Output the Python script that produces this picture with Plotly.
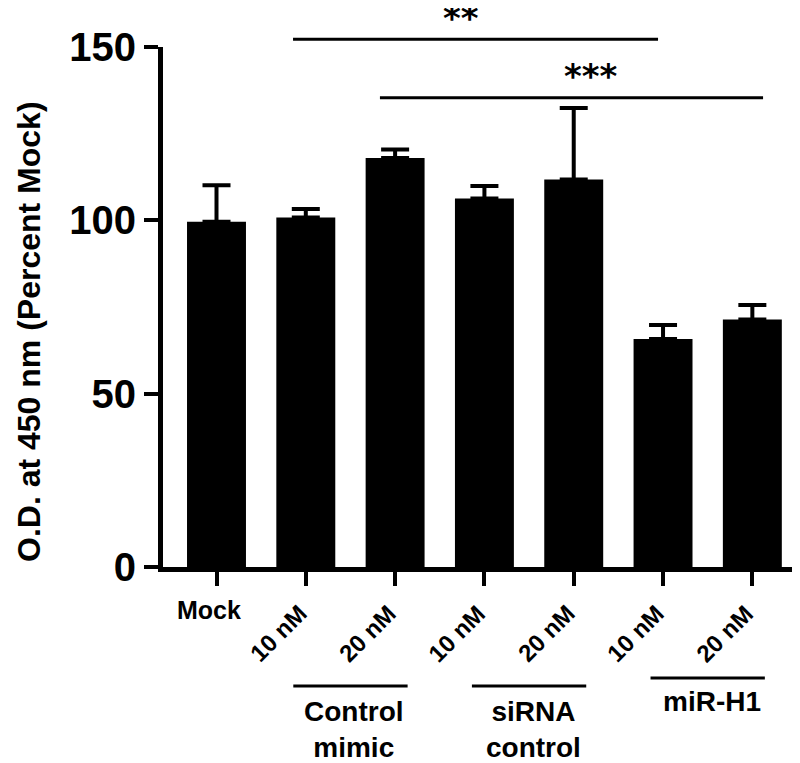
import plotly.graph_objects as go

# data
categories = [
    "Mock",
    "Control mimic 10 nM", "Control mimic 20 nM",
    "siRNA control 10 nM", "siRNA control 20 nM",
    "miR-H1 10 nM", "miR-H1 20 nM",
]
tick_labels = ["Mock", "10 nM", "20 nM", "10 nM", "20 nM", "10 nM", "20 nM"]
od_percent = [99.6, 100.8, 118.0, 106.3, 111.8, 65.8, 71.4]
od_error = [10.5, 2.5, 2.4, 3.6, 20.6, 4.0, 4.2]

# group label, first and last bar index
groups = [("Control<br>mimic", 1, 2), ("siRNA<br>control", 3, 4), ("miR-H1", 5, 6)]
# significance label, bar indices compared
significance = [("**", 1, 5), ("***", 2, 6)]

FONT = "Liberation Sans, Arial, sans-serif"

fig = go.Figure(go.Bar(
    x=categories,
    y=od_percent,
    marker=dict(color="black", line=dict(width=0)),
    error_y=dict(
        type="data", symmetric=False,
        array=od_error, arrayminus=[0] * len(od_error),
        color="black", thickness=4, width=14,
    ),
))

annotations = []
shapes = []

# x tick labels
for i, lab in enumerate(tick_labels):
    if i == 0:
        annotations.append(dict(
            x=i, y=0, xref="x", yref="y", text=lab, showarrow=False,
            xanchor="center", yanchor="middle", xshift=-8, yshift=-43,
            font=dict(family=FONT, size=25, color="black", weight="bold"),
        ))
    else:
        annotations.append(dict(
            x=i, y=0, xref="x", yref="y", text=lab, showarrow=False,
            textangle=-45, xanchor="center", yanchor="middle",
            xshift=-28, yshift=-66,
            font=dict(family=FONT, size=24, color="black", weight="bold"),
        ))

# group brackets under the ticks
for k, (name, a, b) in enumerate(groups):
    line_y = -0.2135 if k == 2 else -0.2288
    shapes.append(dict(
        type="line", xref="x", yref="paper",
        x0=a - 0.14, x1=b + 0.14, y0=line_y, y1=line_y,
        line=dict(color="black", width=3),
    ))
    two_lines = "<br>" in name
    annotations.append(dict(
        x=(a + b) / 2, y=line_y, xref="x", yref="paper", text=name,
        showarrow=False, xanchor="center", yanchor="top",
        xshift=4, yshift=-8 if two_lines else -6,
        font=dict(family=FONT, size=28, color="black", weight="bold"),
    ))

# significance bars
sig_y = [1.0148, 0.9025]
sig_pad = [(-0.143, -0.056), (-0.17, 0.12)]
sig_text_dx = [-23, 17]
sig_text_dy = [21, 22]
for (txt, a, b), yy, (p0, p1), dx, dy in zip(significance, sig_y, sig_pad, sig_text_dx, sig_text_dy):
    shapes.append(dict(
        type="line", xref="x", yref="paper",
        x0=a + p0, x1=b + p1, y0=yy, y1=yy,
        line=dict(color="black", width=3),
    ))
    annotations.append(dict(
        x=(a + b) / 2, y=yy, xref="x", yref="paper", text=txt,
        showarrow=False, xanchor="center", yanchor="middle",
        xshift=dx, yshift=dy,
        font=dict(family="DejaVu Sans", size=34, color="black", weight="bold"),
    ))

# y axis title
annotations.append(dict(
    x=0, y=0, xref="paper", yref="paper",
    text="O.D. at 450 nm (Percent Mock)", showarrow=False,
    textangle=-90, xanchor="center", yanchor="middle",
    xshift=-134, yshift=235,
    font=dict(family=FONT, size=32, color="black", weight="bold"),
))

fig.update_layout(
    width=792, height=755,
    margin=dict(l=155, r=3, t=39, b=196),
    paper_bgcolor="white", plot_bgcolor="white",
    bargap=0.34,
    showlegend=False,
    annotations=annotations,
    shapes=shapes,
    xaxis=dict(
        type="category",
        range=[-0.599, 6.5],
        showgrid=False, zeroline=False,
        showline=True, linecolor="black", linewidth=5,
        ticks="outside", ticklen=14, tickwidth=4, tickcolor="black",
        showticklabels=False,
    ),
    yaxis=dict(
        range=[0, 150],
        tickvals=[0, 50, 100, 150],
        showgrid=False, zeroline=False,
        showline=True, linecolor="black", linewidth=5,
        ticks="outside", ticklen=14, tickwidth=4, tickcolor="black",
        ticklabelstandoff=0,
        tickfont=dict(family=FONT, size=40, color="black", weight="bold"),
    ),
)

fig.write_html("out.html")
